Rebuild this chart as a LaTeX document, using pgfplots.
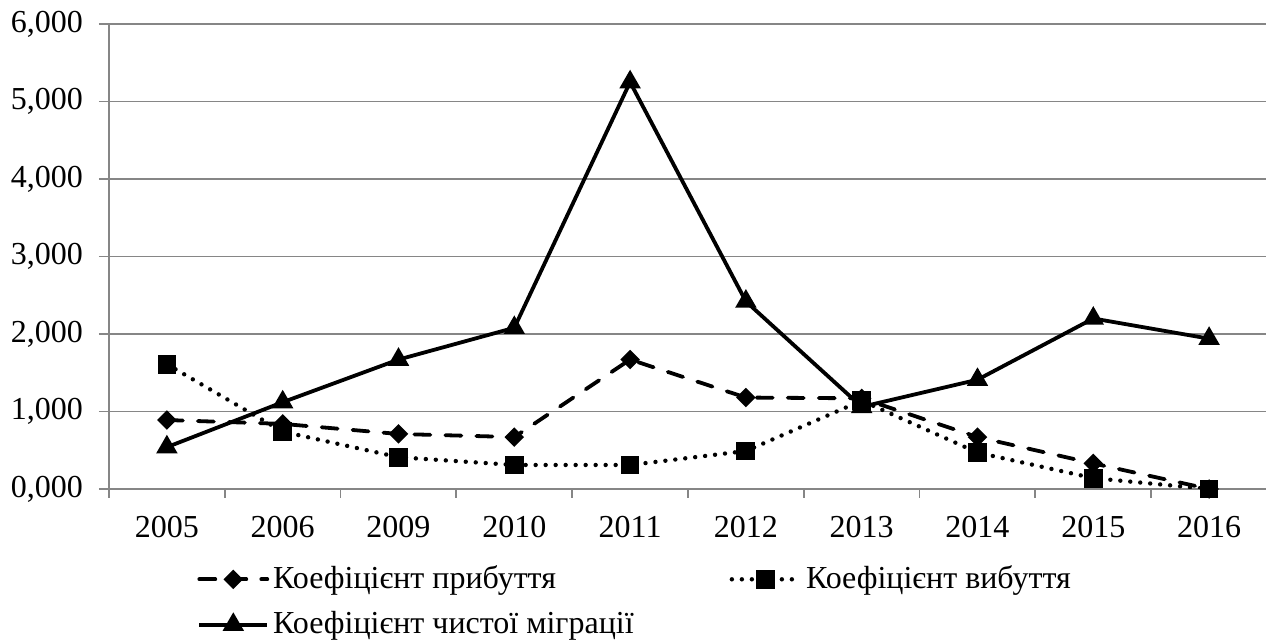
\documentclass[border=0pt]{standalone}
\usepackage{fontspec}
\setmainfont{Liberation Serif}
\usepackage{pgfplots}
\pgfplotsset{compat=1.18}
\definecolor{gridgray}{RGB}{134,134,134}
\begin{document}
\fontsize{16pt}{19pt}\selectfont
\begin{tikzpicture}
\useasboundingbox (0,0) rectangle (633pt,321.5pt);
\begin{axis}[
  at={(54.5pt,77pt)}, anchor=south west,
  scale only axis, width=579pt, height=232.5pt,
  xmin=-0.5, xmax=9.5, ymin=0, ymax=6,
  axis lines*=left,
  axis line style={draw=gridgray, line width=0.9pt},
  xtick={0,...,9},
  xticklabels={2005,2006,2009,2010,2011,2012,2013,2014,2015,2016},
  minor xtick={-0.5,0.5,...,9.5},
  ytick={0,1,...,6},
  tick align=outside,
  xtick style={/pgfplots/major tick length=0pt},
  minor tick length=4.5pt,
  major tick length=5pt,
  tick style={draw=gridgray, line width=0.9pt},
  ymajorgrids,
  major grid style={draw=gridgray, line width=0.9pt},
  tick label style={font=\fontsize{16pt}{19pt}\selectfont},
  xticklabel style={yshift=-3pt},
  yticklabel style={xshift=-2.5pt},
  /pgf/number format/assume math mode=true,
  y tick label style={/pgf/number format/.cd, fixed, fixed zerofill, precision=3, use comma, 1000 sep={}},
  legend style={at={(rel axis cs:0.076,-0.155)}, anchor=north west, draw=none, fill=none,
    inner sep=0pt, font=\fontsize{16pt}{19pt}\selectfont,
    /tikz/every even column/.append style={column sep=46pt},
    row sep=5pt},
  legend columns=2,
  legend cell align=left,
  legend image code/.code={\draw[#1, mark repeat=2, mark phase=2] plot coordinates {(0pt,0pt) (17pt,0pt) (34pt,0pt)};},
]
\addplot[black, line width=1.9pt, line cap=round, dash pattern=on 8pt off 7.5pt, mark=square*, mark size=2.5pt, mark options={solid, rotate=45, fill=black}]
  coordinates {(0,0.89) (1,0.84) (2,0.71) (3,0.67) (4,1.67) (5,1.18) (6,1.17) (7,0.67) (8,0.33) (9,0.00)};
\addlegendentry{Коефіцієнт прибуття}
\addplot[black, line width=2.2pt, line cap=round, dash pattern=on 0pt off 5pt, mark=square*, mark size=3.6pt, mark options={solid, fill=black}]
  coordinates {(0,1.61) (1,0.74) (2,0.41) (3,0.31) (4,0.31) (5,0.49) (6,1.14) (7,0.47) (8,0.14) (9,0.00)};
\addlegendentry{Коефіцієнт вибуття}
\addplot[black, line width=1.9pt, mark=triangle*, mark size=4.3pt, mark options={solid, fill=black}]
  coordinates {(0,0.54) (1,1.12) (2,1.67) (3,2.08) (4,5.25) (5,2.42) (6,1.06) (7,1.41) (8,2.20) (9,1.94)};
\addlegendentry{Коефіцієнт чистої міграції}
\end{axis}
\end{tikzpicture}
\end{document}
